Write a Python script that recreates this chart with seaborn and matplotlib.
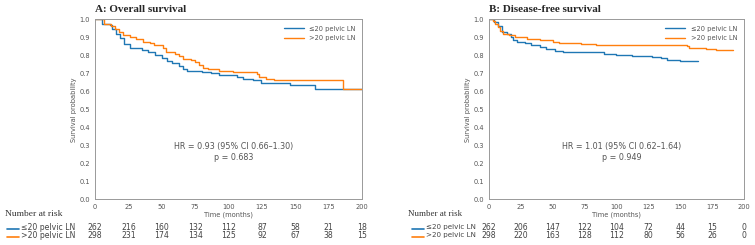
import numpy as np
import pandas as pd
import matplotlib
matplotlib.use('Agg')
import matplotlib.pyplot as plt
import matplotlib.transforms as mtransforms
from matplotlib.lines import Line2D
import seaborn as sns

sns.set_style('white')
plt.rcParams['font.family'] = ['DejaVu Sans']

# Panel A: overall survival (step points)
os_le_t = [0, 5, 11, 13, 16, 19, 22, 26, 35, 40, 45, 50, 54, 58, 63, 66, 69, 80, 87, 93, 106, 111, 118, 124, 146, 165, 200]
os_le_s = [1.0, 0.975, 0.965, 0.945, 0.92, 0.895, 0.86, 0.84, 0.83, 0.82, 0.80, 0.785, 0.765, 0.755, 0.74, 0.725, 0.71, 0.705, 0.70, 0.69, 0.68, 0.67, 0.66, 0.645, 0.635, 0.615, 0.615]
os_gt_t = [0, 7, 12, 15, 18, 21, 26, 31, 36, 41, 44, 51, 53, 60, 63, 66, 72, 75, 78, 81, 85, 93, 103, 121, 123, 128, 134, 186, 200]
os_gt_s = [1.0, 0.975, 0.96, 0.945, 0.93, 0.91, 0.90, 0.89, 0.875, 0.865, 0.855, 0.84, 0.815, 0.805, 0.795, 0.78, 0.775, 0.76, 0.745, 0.73, 0.725, 0.715, 0.705, 0.695, 0.68, 0.67, 0.665, 0.61, 0.61]

# Panel B: disease-free survival
dfs_le_t = [0, 4, 7, 10, 14, 17, 19, 22, 28, 33, 40, 45, 52, 58, 75, 90, 100, 112, 128, 135, 140, 150, 157, 164]
dfs_le_s = [1.0, 0.985, 0.96, 0.93, 0.92, 0.90, 0.885, 0.875, 0.865, 0.855, 0.845, 0.835, 0.825, 0.82, 0.815, 0.805, 0.80, 0.795, 0.79, 0.785, 0.775, 0.77, 0.765, 0.765]
dfs_gt_t = [0, 3, 5, 7, 9, 11, 16, 20, 30, 40, 50, 55, 65, 72, 84, 155, 157, 170, 178, 191]
dfs_gt_s = [1.0, 0.99, 0.975, 0.955, 0.935, 0.92, 0.91, 0.90, 0.89, 0.885, 0.875, 0.87, 0.865, 0.86, 0.855, 0.85, 0.84, 0.835, 0.83, 0.83]

risk_times = [0, 25, 50, 75, 100, 125, 150, 175, 200]
os_risk_le = [262, 216, 160, 132, 112, 87, 58, 21, 18]
os_risk_gt = [298, 231, 174, 134, 125, 92, 67, 38, 15]
dfs_risk_le = [262, 206, 147, 122, 104, 72, 44, 15, 0]
dfs_risk_gt = [298, 220, 163, 128, 112, 80, 56, 26, 0]

groups = ['≤20 pelvic LN', '>20 pelvic LN']
colors = ['#1f77b4', '#ff7f0e']
titles = ['A: Overall survival', 'B: Disease-free survival']
hr_texts = ['HR = 0.93 (95% CI 0.66\u20131.30)\np = 0.683',
            'HR = 1.01 (95% CI 0.62\u20131.64)\np = 0.949']

def make_df(t1, s1, t2, s2):
    a = pd.DataFrame({'time': t1, 'surv': s1, 'group': groups[0]})
    b = pd.DataFrame({'time': t2, 'surv': s2, 'group': groups[1]})
    return pd.concat([a, b], ignore_index=True)

panels = [
    (make_df(os_le_t, os_le_s, os_gt_t, os_gt_s), os_risk_le, os_risk_gt),
    (make_df(dfs_le_t, dfs_le_s, dfs_gt_t, dfs_gt_s), dfs_risk_le, dfs_risk_gt),
]

fig = plt.figure(figsize=(7.55, 2.45), dpi=100)
axes = [fig.add_axes([0.1258, 0.186, 0.3537, 0.736]),
        fig.add_axes([0.6477, 0.186, 0.3377, 0.736])]
label_x = [0.007, 0.540]   # "Number at risk" left edge (fig coords)
line_x = [0.009, 0.5457]
risk_fs = [6.8, 6.4]
row_fs = [5.6, 5.1]

grey = '#555555'
for i, (ax, (df, r1, r2)) in enumerate(zip(axes, panels)):
    sns.lineplot(data=df, x='time', y='surv', hue='group', palette=colors,
                 estimator=None, sort=False, drawstyle='steps-post',
                 linewidth=1.0, ax=ax)
    ax.set_xlim(0, 200)
    ax.set_ylim(0, 1.0)
    ax.set_xticks(risk_times)
    ax.set_yticks(np.arange(0, 1.01, 0.1))
    ax.yaxis.set_major_formatter(matplotlib.ticker.FormatStrFormatter('%.1f'))
    ax.tick_params(labelsize=4.8, colors=grey, length=2, width=0.5, pad=1.5)
    for sp in ax.spines.values():
        sp.set_color('#999999')
        sp.set_linewidth(0.7)
    ax.set_xlabel('Time (months)', fontsize=4.8, color=grey, labelpad=1)
    ax.set_ylabel('Survival probability', fontsize=4.8, color=grey, labelpad=2)
    ax.legend(loc='upper right', frameon=False, fontsize=4.8,
              handlelength=3, labelcolor=grey, borderaxespad=0.6)
    ax.text(0, 1.03, titles[i], transform=ax.transAxes, fontsize=8,
            fontweight='bold', family='Liberation Serif', ha='left', va='bottom')
    ax.text(104, 0.265, hr_texts[i], ha='center', va='center', fontsize=5.8,
            color=grey, linespacing=1.25)

    # number at risk table
    trans = mtransforms.blended_transform_factory(ax.transData, fig.transFigure)
    fig.text(label_x[i], 0.127, 'Number at risk', fontsize=risk_fs[i],
             family='Liberation Serif', color='#333333', ha='left', va='center')
    row_y = [0.073, 0.04]
    for j, (row, col) in enumerate(zip([r1, r2], colors)):
        fig.add_artist(Line2D([line_x[i], line_x[i] + 0.016],
                              [row_y[j] - 0.008, row_y[j] - 0.008],
                              color=col, lw=1.2, transform=fig.transFigure))
        fig.text(line_x[i] + 0.019, row_y[j], groups[j], fontsize=row_fs[i],
                 color='#444444', ha='left', va='center')
        for t, n in zip(risk_times, row):
            ax.text(t, row_y[j], str(n), transform=trans, fontsize=5.6,
                    color='#444444', ha='center', va='center', clip_on=False)

fig.savefig('out.png', dpi=100)
